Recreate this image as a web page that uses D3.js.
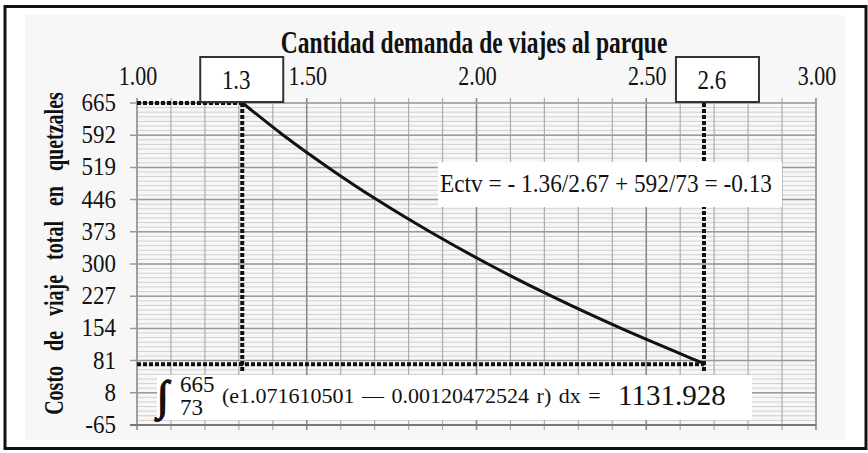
<!DOCTYPE html>
<html>
<head>
<meta charset="utf-8">
<script src="https://cdn.jsdelivr.net/npm/d3@7"></script>
<style>
  body { margin: 0; background: #fff; }
</style>
</head>
<body>
<div id="vis"></div>
<script>
// valores
var xTicks = [1.00, 1.50, 2.00, 2.50, 3.00];
var xTickLabels = ["1.00", "1.50", "2.00", "2.50", "3.00"];
var yTicks = [665, 592, 519, 446, 373, 300, 227, 154, 81, 8, -65];

// curva de demanda: costo (y) contra cantidad (x)
var costo = [665, 592, 519, 446, 373, 300, 227, 154, 81, 73];
var cantidad = [1.311, 1.431, 1.563, 1.706, 1.863, 2.034, 2.221, 2.426, 2.649, 2.674];

// marcas punteadas
var marcaCantidad = [1.31, 2.67];
var marcaCosto = [665, 73];
var marcaTexto = ["1.3", "2.6"];

var titulo = "Cantidad demanda de viajes al parque";
var tituloY = "Costo de viaje total en quetzales";
var ectv = "Ectv = - 1.36/2.67 + 592/73 = -0.13";
var limSup = "665";
var limInf = "73";
var integrando = "(e1.071610501 \u2014 0.00120472524 r) dx =";
var resultado = "1131.928";

var FONT = "Liberation Serif";
var W = 868, H = 453;
var svg = d3.select("#vis").append("svg")
    .attr("width", W)
    .attr("height", H);

svg.append("rect").attr("width", W).attr("height", H).attr("fill", "#fff");
svg.append("rect")
  .attr("x", 25).attr("y", 15).attr("width", 820).attr("height", 425)
  .attr("fill", "#f7f7f7");

var x = d3.scaleLinear().domain([1, 3]).range([137, 816]);
var y = d3.scaleLinear().domain([-65, 665]).range([425, 103]);

function etiqueta(g) {
  return g.append("text")
    .attr("font-family", FONT)
    .attr("fill", "#111");
}

// texto estirado en vertical, como en la imagen escaneada
function texto(g, px, py, str, size, sy, anchor, weight) {
  return etiqueta(g)
    .attr("transform", "translate(" + px + "," + py + ") scale(1," + sy + ")")
    .attr("text-anchor", anchor || "start")
    .attr("font-size", size)
    .attr("font-weight", weight || "normal")
    .text(str);
}

var grid = svg.append("g");

// lineas menores horizontales
var step = 73 / 7;
var menores = d3.range(-65, 665.1, step);
grid.selectAll(".minor").data(menores).enter()
  .append("line")
  .attr("class", "minor")
  .attr("x1", x(1)).attr("x2", x(3))
  .attr("y1", function(d) { return y(d); })
  .attr("y2", function(d) { return y(d); })
  .attr("stroke", "#cfcfcf")
  .attr("stroke-width", 1);

// lineas verticales cada 0.1
var verticales = d3.range(10, 31).map(function(d) { return d / 10; });
grid.selectAll(".vline").data(verticales).enter()
  .append("line")
  .attr("class", "vline")
  .attr("x1", function(d) { return x(d); })
  .attr("x2", function(d) { return x(d); })
  .attr("y1", 98).attr("y2", 430)
  .attr("stroke", function(d, i) { return i % 5 === 0 ? "#8a8a8a" : "#adadad"; })
  .attr("stroke-width", function(d, i) { return i % 5 === 0 ? 1.6 : 1.2; });

// lineas mayores horizontales
grid.selectAll(".major").data(yTicks).enter()
  .append("line")
  .attr("class", "major")
  .attr("x1", 130).attr("x2", x(3))
  .attr("y1", function(d) { return y(d); })
  .attr("y2", function(d) { return y(d); })
  .attr("stroke", function(d) { return d === -65 ? "#777" : "#9a9a9a"; })
  .attr("stroke-width", function(d) { return d === -65 ? 2 : 1.5; });

// etiquetas del eje y
yTicks.forEach(function(d) {
  texto(svg, 116, y(d) + 8, String(d), 23, 1.12, "end");
});

// etiquetas del eje x
xTicks.forEach(function(d, i) {
  texto(svg, x(d) + 1, 85, xTickLabels[i], 22, 1.22, "middle");
});

// titulo
texto(svg, 474, 53, titulo, 23.5, 1.3, "middle", "bold");

// titulo eje y
etiqueta(svg)
  .attr("transform", "translate(63,253.5) rotate(-90) scale(1,1.35)")
  .attr("text-anchor", "middle")
  .attr("font-size", 20)
  .attr("font-weight", "bold")
  .attr("word-spacing", 10)
  .text(tituloY);

// lineas punteadas
var punteo = svg.append("g")
  .attr("stroke", "#111")
  .attr("stroke-width", 4)
  .attr("stroke-dasharray", "4,2")
  .attr("fill", "none");

marcaCantidad.forEach(function(q, i) {
  punteo.append("line")
    .attr("x1", x(1)).attr("x2", x(q))
    .attr("y1", y(marcaCosto[i])).attr("y2", y(marcaCosto[i]));
  punteo.append("line")
    .attr("x1", x(q)).attr("x2", x(q))
    .attr("y1", 97).attr("y2", y(marcaCosto[1]) + 7);
});

// curva
var puntos = costo.map(function(c, i) { return [cantidad[i], c]; });
svg.append("path")
  .datum(puntos)
  .attr("fill", "none")
  .attr("stroke", "#111")
  .attr("stroke-width", 3)
  .attr("d", d3.line()
    .x(function(d) { return x(d[0]); })
    .y(function(d) { return y(d[1]); })
    .curve(d3.curveCatmullRom));

// cajas de las marcas
var desplazamiento = [-42, -28];
marcaCantidad.forEach(function(q, i) {
  var bx = x(q) + desplazamiento[i];
  svg.append("rect")
    .attr("x", bx).attr("y", 57)
    .attr("width", 83).attr("height", 45)
    .attr("fill", "#fff")
    .attr("stroke", "#333")
    .attr("stroke-width", 2);
  texto(svg, bx + 36, 89, marcaTexto[i], 23, 1.15, "middle");
});

// recuadro Ectv
svg.append("rect")
  .attr("x", 438).attr("y", 162).attr("width", 344).attr("height", 45)
  .attr("fill", "#fff");
texto(svg, 440, 192, ectv, 23, 1.1, "start")
  .attr("textLength", 332)
  .attr("lengthAdjust", "spacingAndGlyphs");

// recuadro integral
svg.append("rect")
  .attr("x", 157).attr("y", 375).attr("width", 595).attr("height", 45)
  .attr("fill", "#fff");
etiqueta(svg)
  .attr("x", 157).attr("y", 410)
  .attr("font-size", 42)
  .attr("font-weight", "bold")
  .attr("stroke", "#111")
  .attr("stroke-width", 1.5)
  .text("\u222B");
etiqueta(svg).attr("x", 180).attr("y", 392).attr("font-size", 23).text(limSup);
etiqueta(svg).attr("x", 180).attr("y", 415).attr("font-size", 23).text(limInf);
etiqueta(svg)
  .attr("x", 222).attr("y", 403)
  .attr("font-size", 22)
  .attr("word-spacing", 2)
  .text(integrando);
etiqueta(svg)
  .attr("x", 618).attr("y", 405)
  .attr("font-size", 29)
  .text(resultado);

// marco exterior
svg.append("rect")
  .attr("x", 5).attr("y", 6.5).attr("width", 861).attr("height", 442)
  .attr("fill", "none")
  .attr("stroke", "#111")
  .attr("stroke-width", 3);
</script>
</body>
</html>
